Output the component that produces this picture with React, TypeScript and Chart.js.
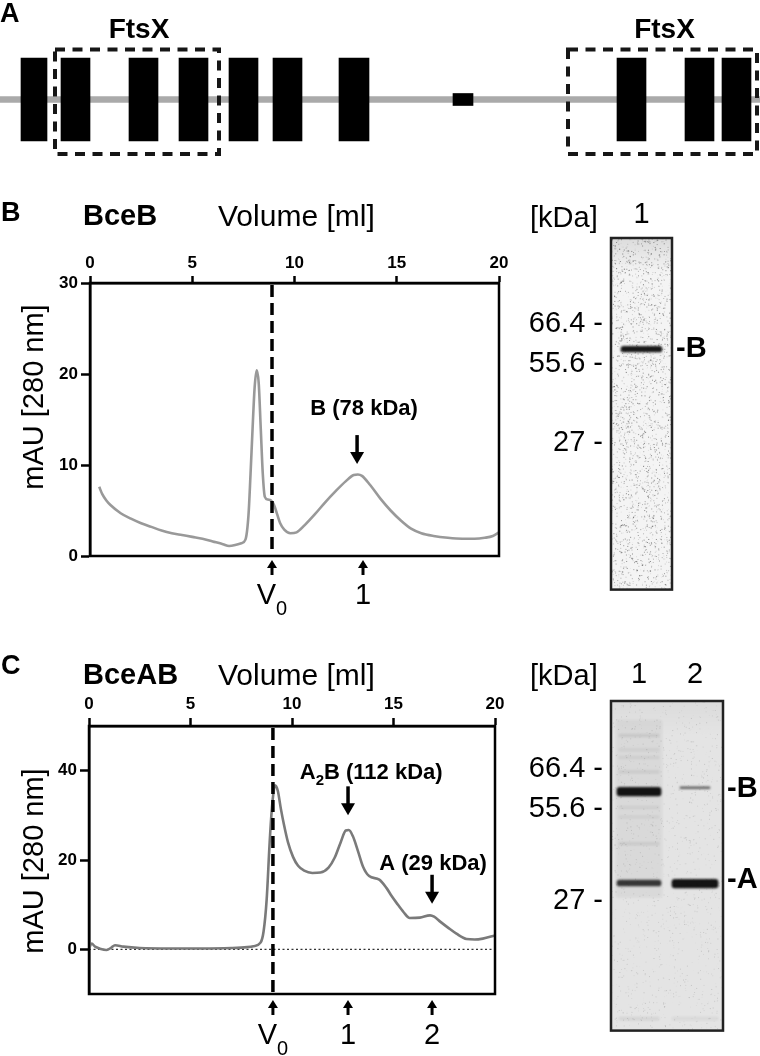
import React, { useEffect, useRef } from 'react';
import { Chart, registerables } from 'chart.js';
Chart.register(...registerables);

const FONT = "'Liberation Sans', Arial, Helvetica, sans-serif";
Chart.defaults.font.family = FONT;

// ---------------- Panel A: BceB topology ----------------
const seqLength = 760;
const helixStart = [21, 61, 129, 179, 229, 273, 339, 617, 685, 722];
const helixEnd = [47, 90, 158, 208, 258, 302, 369, 646, 714, 751];
const loopSegment = [453, 473];
const domainLabel = ['FtsX', 'FtsX'];
const domainStart = [55, 568];
const domainEnd = [219, 757];

// ---------------- Panel B: BceB chromatogram ----------------
const volB = [0.45, 0.6, 0.8, 1.0, 1.5, 2.0, 2.5, 3.0, 3.5, 4.0, 4.5, 5.0, 5.5, 6.0, 6.5, 6.8, 7.1, 7.4, 7.6, 7.75, 7.85, 7.95, 8.05, 8.15, 8.25, 8.35, 8.45, 8.55, 8.7, 8.85, 9.0, 9.15, 9.3, 9.5, 9.8, 10.1, 10.5, 11.0, 11.5, 12.0, 12.5, 12.9, 13.1, 13.3, 13.7, 14.2, 14.7, 15.2, 15.7, 16.2, 16.8, 17.5, 18.2, 18.8, 19.3, 19.7, 20.0];
const mauB = [7.6, 6.8, 6.1, 5.6, 4.7, 4.1, 3.6, 3.2, 2.8, 2.5, 2.3, 2.1, 1.9, 1.6, 1.3, 1.1, 1.2, 1.4, 1.8, 4.5, 9.0, 14.0, 18.5, 20.4, 19.0, 14.0, 9.0, 6.5, 6.2, 6.1, 5.6, 4.6, 3.6, 2.9, 2.5, 2.6, 3.4, 4.6, 5.9, 7.1, 8.2, 8.9, 8.95, 8.8, 7.8, 6.3, 5.0, 3.9, 3.0, 2.5, 2.2, 2.0, 1.9, 1.9, 2.0, 2.2, 2.6];
const volTicks = [0, 5, 10, 15, 20];
const mauTicksB = [0, 10, 20, 30];
const v0B = 8.9;
const fracVolB = [8.9, 13.35];
const fracLabelB = ['V_0', '1'];
const peakVolB = [13.06];
const peakTipB = [10.1];
const peakTextB = ['B (78 kDa)'];
const peakTextVolB = [13.4];
const peakTextMauB = [16.4];

// ---------------- Panel C: BceAB chromatogram ----------------
const volC = [0.0, 0.13, 0.3, 0.54, 0.87, 1.1, 1.28, 1.69, 2.5, 4.0, 5.5, 7.0, 7.8, 8.1, 8.45, 8.6, 8.75, 8.9, 9.0, 9.1, 9.16, 9.3, 9.45, 9.6, 9.8, 10.05, 10.3, 10.6, 11.0, 11.4, 11.8, 12.1, 12.4, 12.65, 12.8, 13.0, 13.25, 13.5, 13.8, 14.3, 14.66, 14.9, 15.15, 15.5, 15.8, 16.3, 16.8, 17.0, 17.3, 17.7, 18.1, 18.6, 19.0, 19.4, 20.0];
const mauC = [0.2, 1.3, 0.6, 0.15, -0.15, 0.4, 0.9, 0.6, 0.3, 0.2, 0.2, 0.3, 0.5, 0.7, 1.5, 4.0, 11.0, 24.0, 31.0, 35.5, 36.7, 35.5, 31.5, 28.0, 24.0, 20.7, 18.7, 17.6, 17.1, 17.2, 18.3, 20.5, 24.0, 26.6, 26.7, 25.3, 22.0, 18.5, 16.4, 15.6, 13.7, 12.0, 10.4, 8.3, 7.0, 7.1, 7.6, 7.3, 6.2, 4.8, 3.5, 2.3, 2.2, 2.4, 3.1];
const mauTicksC = [0, 20, 40];
const v0C = 9.06;
const fracVolC = [9.06, 12.76, 16.9];
const fracLabelC = ['V_0', '1', '2'];
const peakVolC = [12.76, 16.9];
const peakTipC = [30, 10.2];
const peakTextC = ['A_2B (112 kDa)', 'A (29 kDa)'];
const peakTextVolC = [13.9, 16.95];
const peakTextMauC = [40, 19.6];

// ---------------- Gels (migration distance from gel top, px units) ----------------
const gelBLanes = ['1'];
const gelBLength = 367;
const gelBMarkerKDa = ['66.4', '55.6', '27'];
const gelBMarkerPos = [90, 132, 214];
const gelBBandName = ['B'];
const gelBBandNamePos = [116];
const gelBBandLane = [0];
const gelBBandTop = [113];
const gelBBandBottom = [119];
const gelBBandIntensity = [0.95];

const gelCLanes = ['1', '2'];
const gelCLength = 344;
const gelCMarkerKDa = ['66.4', '55.6', '27'];
const gelCMarkerPos = [71, 113, 209];
const gelCBandName = ['B', 'A'];
const gelCBandNamePos = [92, 187];
const gelCBandLane = [0, 0, 1, 0, 1, 0, 0, 0, 0, 0, 0, 0, 0, 1];
const gelCBandTop = [20, 90, 89.5, 187, 186, 35, 50, 58, 73, 110, 120, 148, 330, 330];
const gelCBandBottom = [205, 99, 91.5, 193, 195, 37, 52, 60, 75, 112, 122, 150, 333, 333];
const gelCBandIntensity = [0.05, 0.97, 0.6, 0.8, 0.97, 0.1, 0.06, 0.06, 0.08, 0.06, 0.06, 0.09, 0.07, 0.05];

// ---------------- helpers ----------------
function mulberry32(a: number) {
  return function () {
    a |= 0; a = (a + 0x6d2b79f5) | 0;
    let t = Math.imul(a ^ (a >>> 15), 1 | a);
    t = (t + Math.imul(t ^ (t >>> 7), 61 | t)) ^ t;
    return ((t ^ (t >>> 14)) >>> 0) / 4294967296;
  };
}

type Part = { t: string; sub: boolean };
function parseRich(s: string): Part[] {
  const parts: Part[] = [];
  let buf = '';
  for (let i = 0; i < s.length; i++) {
    if (s[i] === '_' && i + 1 < s.length) {
      if (buf) parts.push({ t: buf, sub: false });
      buf = '';
      parts.push({ t: s[i + 1], sub: true });
      i++;
    } else buf += s[i];
  }
  if (buf) parts.push({ t: buf, sub: false });
  return parts;
}

function drawRich(ctx: CanvasRenderingContext2D, s: string, cx: number, cy: number, size: number, weight: string, subShift: number, align: 'center' | 'left' = 'center') {
  const parts = parseRich(s);
  const subSize = Math.round(size * 0.68);
  const fontOf = (p: Part) => `${weight} ${p.sub ? subSize : size}px ${FONT}`;
  let total = 0;
  const widths = parts.map((p) => {
    ctx.font = fontOf(p);
    const w = ctx.measureText(p.t).width;
    total += w;
    return w;
  });
  let x = align === 'center' ? cx - total / 2 : cx;
  ctx.textAlign = 'left';
  ctx.textBaseline = 'alphabetic';
  ctx.fillStyle = '#000';
  const base = cy + size * 0.358;
  parts.forEach((p, i) => {
    ctx.font = fontOf(p);
    ctx.fillText(p.t, x, base + (p.sub ? size * subShift : 0));
    x += widths[i];
  });
}

function drawArrow(ctx: CanvasRenderingContext2D, x: number, tipY: number, len: number, dir: 'up' | 'down', headH: number, headW: number, stemW: number) {
  const s = dir === 'down' ? -1 : 1;
  ctx.save();
  ctx.fillStyle = '#000';
  ctx.strokeStyle = '#000';
  ctx.lineWidth = stemW;
  ctx.setLineDash([]);
  ctx.beginPath();
  ctx.moveTo(x, tipY + s * (headH - 1));
  ctx.lineTo(x, tipY + s * len);
  ctx.stroke();
  ctx.beginPath();
  ctx.moveTo(x, tipY);
  ctx.lineTo(x - headW / 2, tipY + s * headH);
  ctx.lineTo(x + headW / 2, tipY + s * headH);
  ctx.closePath();
  ctx.fill();
  ctx.restore();
}

// ---------------- Panel A config ----------------
function topologyConfig(): any {
  const plugin = {
    id: 'topologyDecor',
    afterDatasetsDraw(chart: any) {
      const { ctx, scales } = chart;
      const x = scales.x;
      ctx.save();
      drawRich(ctx, 'A', 0, 12, 27, 'bold', 0, 'left');
      domainStart.forEach((s, i) => {
        const x1 = x.getPixelForValue(s);
        const x2 = x.getPixelForValue(domainEnd[i]);
        ctx.strokeStyle = '#161616';
        ctx.lineWidth = 4;
        ctx.setLineDash([10, 7.5]);
        ctx.strokeRect(x1, 49.5, x2 - x1, 104.5);
        ctx.setLineDash([]);
        drawRich(ctx, domainLabel[i], (x1 + x2) / 2 + 2, 28, 28, 'bold', 0);
      });
      ctx.restore();
    },
  };
  return {
    type: 'bar',
    data: {
      labels: ['BceB'],
      datasets: [
        ...helixStart.map((s, i) => ({ data: [[s, helixEnd[i]]], backgroundColor: '#000', barThickness: 83, grouped: false, order: 0 })),
        { data: [loopSegment], backgroundColor: '#000', barThickness: 12, grouped: false, order: 0 },
        { data: [[0, seqLength]], backgroundColor: '#aaaaaa', barThickness: 6, grouped: false, order: 5 },
      ],
    },
    options: {
      indexAxis: 'y',
      responsive: false,
      animation: false,
      devicePixelRatio: 1,
      layout: { padding: 0 },
      plugins: { legend: { display: false }, tooltip: { enabled: false } },
      scales: {
        x: { type: 'linear', min: 0, max: seqLength, display: false },
        y: { display: false },
      },
    },
    plugins: [plugin],
  };
}

// ---------------- Chromatogram config ----------------
type ChromSpec = {
  vol: number[]; mau: number[]; color: string; yMin: number; yMax: number; yTicks: number[];
  v0: number; fracVol: number[]; fracLabel: string[]; peakVol: number[]; peakTip: number[];
  peakText: string[]; peakTextVol: number[]; peakTextMau: number[]; zeroLine: boolean; panel: string; sample: string;
};
type ChromLayout = {
  left: number; top: number; padRight: number; padBottom: number; xTick: number; xPad: number;
  fracGap: number; fracText: number; letterY: number; titleY: number; yTitleY: number;
};

function chromConfig(s: ChromSpec, L: ChromLayout): any {
  const plugin = {
    id: 'chromDecor',
    beforeDatasetsDraw(chart: any) {
      if (!s.zeroLine) return;
      const { ctx, chartArea: ca, scales } = chart;
      const y0 = scales.y.getPixelForValue(0);
      ctx.save();
      ctx.strokeStyle = '#333';
      ctx.lineWidth = 1.4;
      ctx.setLineDash([2, 2.5]);
      ctx.beginPath();
      ctx.moveTo(ca.left, y0);
      ctx.lineTo(ca.right, y0);
      ctx.stroke();
      ctx.restore();
    },
    afterDatasetsDraw(chart: any) {
      const { ctx, chartArea: ca, scales } = chart;
      const x = scales.x, y = scales.y;
      ctx.save();
      const xv = x.getPixelForValue(s.v0);
      ctx.strokeStyle = '#000';
      ctx.lineWidth = 3.5;
      ctx.setLineDash([12, 6]);
      ctx.beginPath();
      ctx.moveTo(xv, ca.top + 2);
      ctx.lineTo(xv, ca.bottom);
      ctx.stroke();
      ctx.setLineDash([]);
      ctx.lineWidth = 2.5;
      ctx.strokeRect(ca.left, ca.top, ca.right - ca.left, ca.bottom - ca.top);
      s.peakVol.forEach((v, i) => {
        const px = x.getPixelForValue(v);
        const tip = y.getPixelForValue(s.peakTip[i]);
        drawArrow(ctx, px, tip, 29, 'down', 12, 14, 3.5);
        drawRich(ctx, s.peakText[i], x.getPixelForValue(s.peakTextVol[i]), y.getPixelForValue(s.peakTextMau[i]), 22, 'bold', 0.3);
      });
      s.fracVol.forEach((v, i) => {
        const px = x.getPixelForValue(v);
        drawArrow(ctx, px, ca.bottom + L.fracGap, 15, 'up', 8, 10, 3);
        drawRich(ctx, s.fracLabel[i], px, ca.bottom + L.fracText, 29, 'normal', 0.38);
      });
      drawRich(ctx, s.panel, 1, L.letterY, 27, 'bold', 0, 'left');
      drawRich(ctx, s.sample, 83, L.titleY, 29, 'bold', 0, 'left');
      drawRich(ctx, 'Volume [ml]', 218, L.titleY, 30, 'normal', 0, 'left');
      ctx.save();
      ctx.translate(43, L.yTitleY);
      ctx.rotate(-Math.PI / 2);
      ctx.font = `normal 29px ${FONT}`;
      ctx.textAlign = 'center';
      ctx.textBaseline = 'alphabetic';
      ctx.fillStyle = '#000';
      ctx.fillText('mAU [280 nm]', 0, 0);
      ctx.restore();
      ctx.restore();
    },
  };
  const tickFont = { family: FONT, size: 17, weight: 'bold' as const };
  return {
    type: 'line',
    data: {
      datasets: [{
        data: s.vol.map((v, i) => ({ x: v, y: s.mau[i] })),
        borderColor: s.color, borderWidth: 2.6, pointRadius: 0, cubicInterpolationMode: 'monotone', fill: false,
      }],
    },
    options: {
      responsive: false,
      animation: false,
      devicePixelRatio: 1,
      layout: { padding: { left: 0, top: 0, right: L.padRight, bottom: L.padBottom } },
      plugins: { legend: { display: false }, tooltip: { enabled: false } },
      scales: {
        x: {
          type: 'linear', position: 'top', min: 0, max: 20,
          afterBuildTicks: (sc: any) => { sc.ticks = volTicks.map((v) => ({ value: v })); },
          afterFit: (sc: any) => { sc.height = L.top; },
          ticks: { font: tickFont, color: '#000', padding: L.xPad, maxRotation: 0, autoSkip: false },
          grid: { drawOnChartArea: false, tickLength: L.xTick, tickWidth: 2.5, tickColor: '#000' },
          border: { display: true, color: '#000', width: 2.5 },
        },
        y: {
          type: 'linear', min: s.yMin, max: s.yMax,
          afterBuildTicks: (sc: any) => { sc.ticks = s.yTicks.map((v) => ({ value: v })); },
          afterFit: (sc: any) => { sc.width = L.left; },
          ticks: { font: tickFont, color: '#000', padding: 3, autoSkip: false },
          grid: { drawOnChartArea: false, tickLength: 9, tickWidth: 2.5, tickColor: '#000' },
          border: { display: true, color: '#000', width: 2.5 },
        },
      },
    },
    plugins: [plugin],
  };
}

// ---------------- Gel config ----------------
type GelSpec = {
  lanes: string[]; length: number; markerKDa: string[]; markerPos: number[]; bandName: string[]; bandNamePos: number[];
  bandLane: number[]; bandTop: number[]; bandBottom: number[]; bandIntensity: number[];
};
type GelLayout = {
  left: number; right: number; top: number; padBottom: number; xPad: number; kdaY: number;
  bandWidth: (i: number) => number; base: string; speckles: number; speckAlpha: number; topShade: number; seed: number;
};

function gelConfig(g: GelSpec, L: GelLayout): any {
  const plugin = {
    id: 'gelDecor',
    beforeDatasetsDraw(chart: any) {
      const { ctx, chartArea: ca } = chart;
      ctx.save();
      ctx.fillStyle = L.base;
      ctx.fillRect(ca.left, ca.top, ca.right - ca.left, ca.bottom - ca.top);
      const grad = ctx.createLinearGradient(0, ca.top, 0, ca.top + 35);
      grad.addColorStop(0, `rgba(0,0,0,${L.topShade})`);
      grad.addColorStop(1, 'rgba(0,0,0,0)');
      ctx.fillStyle = grad;
      ctx.fillRect(ca.left, ca.top, ca.right - ca.left, 35);
      // texture speckles (visual noise only, not data)
      const rnd = mulberry32(L.seed);
      for (let i = 0; i < L.speckles; i++) {
        const px = ca.left + rnd() * (ca.right - ca.left);
        const py = ca.top + rnd() * (ca.bottom - ca.top);
        ctx.fillStyle = `rgba(0,0,0,${(L.speckAlpha * rnd()).toFixed(3)})`;
        ctx.fillRect(px, py, 1, 1);
      }
      ctx.restore();
      ctx.save();
      ctx.filter = 'blur(1.2px)';
    },
    afterDatasetsDraw(chart: any) {
      const { ctx, chartArea: ca } = chart;
      ctx.restore();
      ctx.save();
      ctx.strokeStyle = '#222';
      ctx.lineWidth = 2.5;
      ctx.strokeRect(ca.left, ca.top, ca.right - ca.left, ca.bottom - ca.top);
      drawRich(ctx, '[kDa]', 15, L.kdaY, 29, 'normal', 0, 'left');
      ctx.restore();
    },
  };
  const datasets = g.bandTop.map((t, i) => ({
    data: g.lanes.map((_, li) => (li === g.bandLane[i] ? [t, g.bandBottom[i]] : null)),
    grouped: false,
    barThickness: L.bandWidth(i),
    backgroundColor: `rgba(12,12,12,${g.bandIntensity[i]})`,
    borderRadius: 3,
    borderSkipped: false,
  }));
  const labelFont = { family: FONT, size: 29, weight: 'normal' as const };
  return {
    type: 'bar',
    data: { labels: g.lanes, datasets },
    options: {
      responsive: false,
      animation: false,
      devicePixelRatio: 1,
      layout: { padding: { left: 0, top: 0, right: 0, bottom: L.padBottom } },
      plugins: { legend: { display: false }, tooltip: { enabled: false } },
      scales: {
        x: {
          type: 'category', position: 'top',
          afterFit: (sc: any) => { sc.height = L.top; },
          ticks: { font: labelFont, color: '#000', padding: L.xPad, maxRotation: 0 },
          grid: { display: false, drawTicks: false },
          border: { display: false },
        },
        y: {
          type: 'linear', min: 0, max: g.length, reverse: true,
          afterBuildTicks: (sc: any) => { sc.ticks = g.markerPos.map((v) => ({ value: v })); },
          afterFit: (sc: any) => { sc.width = L.left; },
          ticks: { font: labelFont, color: '#000', padding: 8, autoSkip: false, callback: (_v: any, i: number) => `${g.markerKDa[i]} -` },
          grid: { display: false, drawTicks: false },
          border: { display: false },
        },
        y2: {
          type: 'linear', position: 'right', min: 0, max: g.length, reverse: true,
          afterBuildTicks: (sc: any) => { sc.ticks = g.bandNamePos.map((v) => ({ value: v })); },
          afterFit: (sc: any) => { sc.width = L.right; },
          ticks: { font: { family: FONT, size: 29, weight: 'bold' }, color: '#000', padding: 4, autoSkip: false, callback: (_v: any, i: number) => `-${g.bandName[i]}` },
          grid: { display: false, drawTicks: false },
          border: { display: false },
        },
      },
    },
    plugins: [plugin],
  };
}

// ---------------- components ----------------
function ChartBox({ make, left, top, width, height }: { make: () => any; left: number; top: number; width: number; height: number }) {
  const ref = useRef<HTMLCanvasElement | null>(null);
  useEffect(() => {
    if (!ref.current) return;
    const chart = new Chart(ref.current, make());
    return () => chart.destroy();
  }, []);
  return <canvas ref={ref} width={width} height={height} style={{ position: 'absolute', left, top, width, height, display: 'block' }} />;
}

const specB: ChromSpec = {
  vol: volB, mau: mauB, color: '#999999', yMin: 0, yMax: 30, yTicks: mauTicksB, v0: v0B,
  fracVol: fracVolB, fracLabel: fracLabelB, peakVol: peakVolB, peakTip: peakTipB, peakText: peakTextB,
  peakTextVol: peakTextVolB, peakTextMau: peakTextMauB, zeroLine: false, panel: 'B', sample: 'BceB',
};
const specC: ChromSpec = {
  vol: volC, mau: mauC, color: '#7a7a7a', yMin: -10, yMax: 50, yTicks: mauTicksC, v0: v0C,
  fracVol: fracVolC, fracLabel: fracLabelC, peakVol: peakVolC, peakTip: peakTipC, peakText: peakTextC,
  peakTextVol: peakTextVolC, peakTextMau: peakTextMauC, zeroLine: true, panel: 'C', sample: 'BceAB',
};
const gelB: GelSpec = {
  lanes: gelBLanes, length: gelBLength, markerKDa: gelBMarkerKDa, markerPos: gelBMarkerPos, bandName: gelBBandName,
  bandNamePos: gelBBandNamePos, bandLane: gelBBandLane, bandTop: gelBBandTop, bandBottom: gelBBandBottom, bandIntensity: gelBBandIntensity,
};
const gelC: GelSpec = {
  lanes: gelCLanes, length: gelCLength, markerKDa: gelCMarkerKDa, markerPos: gelCMarkerPos, bandName: gelCBandName,
  bandNamePos: gelCBandNamePos, bandLane: gelCBandLane, bandTop: gelCBandTop, bandBottom: gelCBandBottom, bandIntensity: gelCBandIntensity,
};

export default function App() {
  return (
    <div style={{ position: 'absolute', left: 0, top: 0, width: 760, height: 1056, background: '#fff', overflow: 'hidden' }}>
      <ChartBox make={topologyConfig} left={0} top={0} width={760} height={199} />
      <ChartBox
        make={() => chromConfig(specB, { left: 90, top: 93, padRight: 16, padBottom: 59, xTick: 7, xPad: 2.8, fracGap: 4, fracText: 38, letterY: 21, titleY: 25, yTitleY: 207 })}
        left={0} top={190} width={515} height={425}
      />
      <ChartBox
        make={() => gelConfig(gelB, { left: 96, right: 88, top: 48, padBottom: 10, xPad: 5.6, kdaY: 27, bandWidth: () => 41, base: '#f4f4f4', speckles: 2600, speckAlpha: 0.45, topShade: 0.1, seed: 7 })}
        left={515} top={190} width={245} height={425}
      />
      <ChartBox
        make={() => chromConfig(specC, { left: 89, top: 96, padRight: 20, padBottom: 62, xTick: 8, xPad: 3.8, fracGap: 6, fracText: 40, letterY: 34, titleY: 44, yTitleY: 231 })}
        left={0} top={630} width={515} height={426}
      />
      <ChartBox
        make={() => gelConfig(gelC, {
          left: 96, right: 37, top: 71, padBottom: 11, xPad: 8.6, kdaY: 45,
          bandWidth: (i: number) => (i === 0 ? 46 : i === 2 ? 30 : gelCBandLane[i] === 1 ? 46 : gelCBandIntensity[i] < 0.3 ? 40 : 44),
          base: '#e4e4e4', speckles: 1500, speckAlpha: 0.15, topShade: 0.04, seed: 11,
        })}
        left={515} top={630} width={245} height={426}
      />
    </div>
  );
}
